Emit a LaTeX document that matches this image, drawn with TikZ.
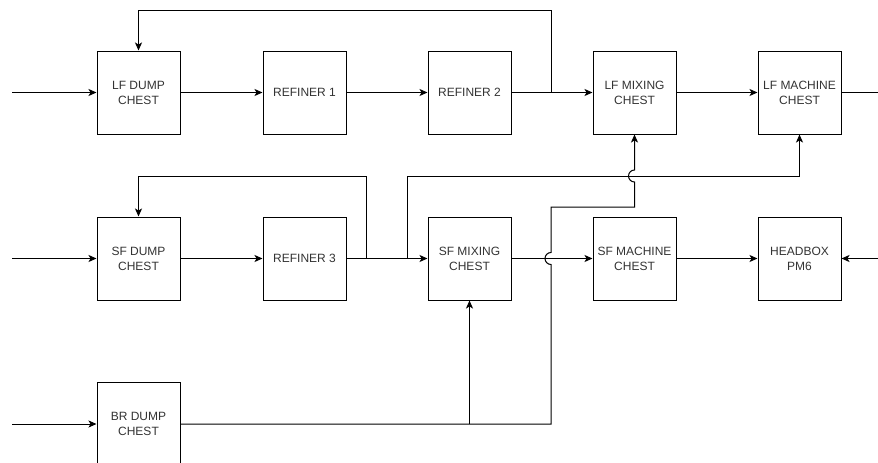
\documentclass[tikz,border=0pt]{standalone}
\usepackage{fontspec}
\setmainfont{Liberation Sans}
\usetikzlibrary{arrows.meta}
\definecolor{txt}{HTML}{333333}
\begin{document}
\begin{tikzpicture}[x=1pt,y=-1pt,
  box/.style={draw=black,line width=1pt,minimum width=83pt,minimum height=83pt,
    inner sep=0pt,align=center,text=txt,font=\fontsize{12}{15}\selectfont},
  conn/.style={draw=black,line width=1pt},
  arr/.style={conn,-{Stealth[length=8pt,width=7pt,inset=2pt]}}]
\useasboundingbox (0,0) rectangle (878,463);
% row 1
\node[box] (lfd) at (138.5,92.5) {LF DUMP\\CHEST};
\node[box] (ref1) at (304.5,92.5) {REFINER 1};
\node[box] (ref2) at (469.5,92.5) {REFINER 2};
\node[box] (lfmix) at (634.5,92.5) {LF MIXING\\CHEST};
\node[box] (lfmach) at (799.5,92.5) {LF MACHINE\\CHEST};
% row 2
\node[box] (sfd) at (138.5,258.5) {SF DUMP\\CHEST};
\node[box] (ref3) at (304.5,258.5) {REFINER 3};
\node[box] (sfmix) at (469.5,258.5) {SF MIXING\\CHEST};
\node[box] (sfmach) at (634.5,258.5) {SF MACHINE\\CHEST};
\node[box] (head) at (799.5,258.5) {HEADBOX\\PM6};
% row 3
\node[box] (brd) at (138.5,424) {BR DUMP\\CHEST};
% free ends and junctions
\coordinate (in1) at (12,92.5);
\coordinate (in2) at (12,258.5);
\coordinate (in3) at (12,424);
\coordinate (out1) at (878,92.5);
\coordinate (in4) at (878,258.5);
\coordinate (j1) at (551,92.5);
\coordinate (j2) at (366,258.5);
\coordinate (j3) at (407,258.5);
\coordinate (j4) at (469.5,424);
% row 1 flow
\draw[arr] (in1) -- (lfd);
\draw[arr] (lfd) -- (ref1);
\draw[arr] (ref1) -- (ref2);
\draw[arr] (ref2) -- (lfmix);
\draw[arr] (lfmix) -- (lfmach);
\draw[conn] (lfmach) -- (out1);
\draw[arr] (j1) -- (551,10) -| (lfd.north);
% row 2 flow
\draw[arr] (in2) -- (sfd);
\draw[arr] (sfd) -- (ref3);
\draw[arr] (ref3) -- (sfmix);
\draw[arr] (sfmix) -- (sfmach);
\draw[arr] (sfmach) -- (head);
\draw[arr] (in4) -- (head);
\draw[arr] (j2) -- (366,176) -| (sfd.north);
\draw[arr] (j3) -- (407,176) -| (lfmach.south);
% row 3 flow
\draw[arr] (in3) -- (brd);
\draw[arr] (j4) -- (sfmix.south);
\draw[arr] (brd.east) -- (551,424) -- (551,264.5)
  arc[start angle=-90,end angle=-270,radius=6pt] -- (551,207) -- (634.5,207)
  -- (634.5,182) arc[start angle=-90,end angle=-270,radius=6pt] -- (lfmix.south);
\end{tikzpicture}
\end{document}
